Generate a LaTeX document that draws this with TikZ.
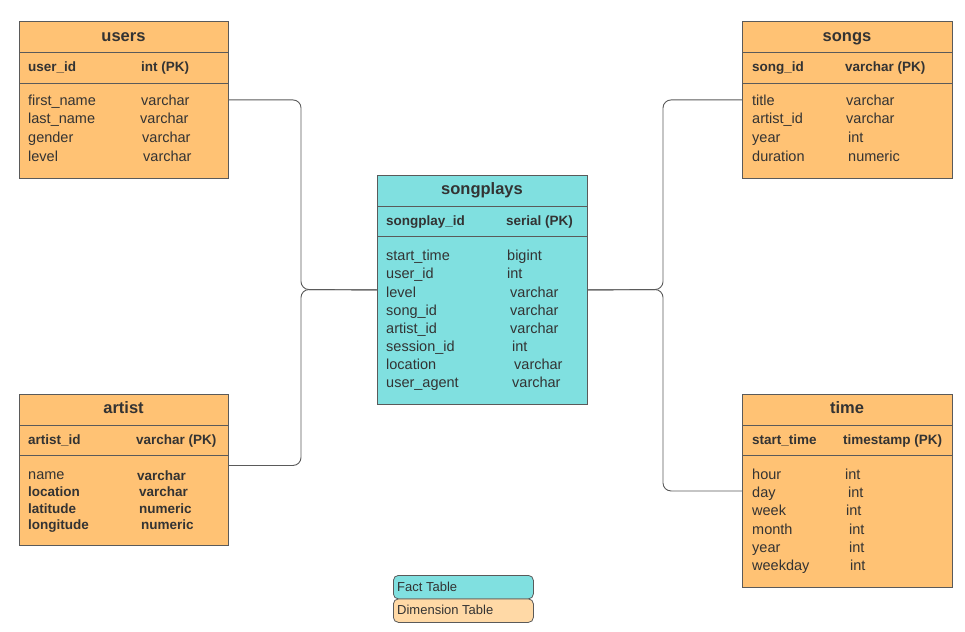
\documentclass[tikz,border=0pt]{standalone}
\usepackage{fontspec}
\setmainfont{Liberation Sans}
\definecolor{dimfill}{HTML}{FFC274}
\definecolor{factfill}{HTML}{80E0E0}
\definecolor{dimlight}{HTML}{FFD9A6}
\definecolor{edge}{HTML}{5A5A5A}
\definecolor{txt}{HTML}{333333}
\begin{document}
\begin{tikzpicture}[x=1pt,y=-1pt,
  tbl/.style={draw=edge, line width=0.9pt, rectangle, anchor=north west, inner sep=0pt},
  sep/.style={draw=edge, line width=0.8pt},
  ttl/.style={font=\fontsize{16.5}{19}\selectfont\bfseries, text=txt, anchor=center, inner sep=0pt, text height=11pt, text depth=0pt},
  pk/.style={font=\fontsize{13.5}{16}\selectfont\bfseries, text=txt, anchor=west, inner sep=0pt, text height=10pt, text depth=0pt},
  row/.style={font=\fontsize{14.5}{17}\selectfont, text=txt, anchor=west, inner sep=0pt, text height=10pt, text depth=0pt},
  brow/.style={font=\fontsize{13.5}{16}\selectfont\bfseries, text=txt, anchor=west, inner sep=0pt, text height=10pt, text depth=0pt},
  conn/.style={draw=edge, line width=0.9pt, rounded corners=8pt},
  legend/.style={draw=edge, line width=0.8pt, rounded corners=5pt, anchor=north west, minimum width=140pt, minimum height=23.5pt, inner sep=0pt},
  legtxt/.style={font=\fontsize{13}{15}\selectfont, text=txt, anchor=west, inner sep=0pt, text height=9pt, text depth=0pt}
]
\useasboundingbox (0,0) rectangle (965,631);

% ---------- users ----------
\node[tbl, fill=dimfill, minimum width=209pt, minimum height=157pt] (users) at (19,21) {};
\draw[sep] (19,52.5) -- (228,52.5);
\draw[sep] (19,83) -- (228,83);
\node[ttl] (usersT) at (123.5,36) {users};
\node[pk] (u0a) at (28,67) {user\_id};
\node[pk] (u0b) at (141,67) {int (PK)};
\node[row] (u1a) at (28,101) {first\_name};  \node[row] (u1b) at (141,101) {varchar};
\node[row] (u2a) at (28,119) {last\_name};   \node[row] (u2b) at (140,119) {varchar};
\node[row] (u3a) at (28,138) {gender};      \node[row] (u3b) at (142,138) {varchar};
\node[row] (u4a) at (28,156) {level};       \node[row] (u4b) at (143,156) {varchar};

% ---------- songs ----------
\node[tbl, fill=dimfill, minimum width=210pt, minimum height=157pt] (songs) at (742,21) {};
\draw[sep] (742,52.5) -- (952,52.5);
\draw[sep] (742,83) -- (952,83);
\node[ttl] (songsT) at (847,36) {songs};
\node[pk] (s0a) at (752,67) {song\_id};
\node[pk] (s0b) at (845,67) {varchar (PK)};
\node[row] (s1a) at (752,101) {title};      \node[row] (s1b) at (846,101) {varchar};
\node[row] (s2a) at (752,119) {artist\_id}; \node[row] (s2b) at (846,119) {varchar};
\node[row] (s3a) at (752,138) {year};       \node[row] (s3b) at (848,138) {int};
\node[row] (s4a) at (752,156) {duration};   \node[row] (s4b) at (848,156) {numeric};

% ---------- songplays ----------
\node[tbl, fill=factfill, minimum width=210pt, minimum height=229pt] (songplays) at (377,175) {};
\draw[sep] (377,206.5) -- (587,206.5);
\draw[sep] (377,236) -- (587,236);
\node[ttl] (spT) at (482,189) {songplays};
\node[pk] (p0a) at (386,220) {songplay\_id};
\node[pk] (p0b) at (506,220) {serial (PK)};
\node[row] (p1a) at (386,255) {start\_time}; \node[row] (p1b) at (507,255) {bigint};
\node[row] (p2a) at (386,273) {user\_id};    \node[row] (p2b) at (507,273) {int};
\node[row] (p3a) at (386,292) {level};       \node[row] (p3b) at (510,292) {varchar};
\node[row] (p4a) at (386,310) {song\_id};    \node[row] (p4b) at (510,310) {varchar};
\node[row] (p5a) at (386,328) {artist\_id};  \node[row] (p5b) at (510,328) {varchar};
\node[row] (p6a) at (386,346) {session\_id}; \node[row] (p6b) at (512,346) {int};
\node[row] (p7a) at (386,364) {location};    \node[row] (p7b) at (514,364) {varchar};
\node[row] (p8a) at (386,382) {user\_agent}; \node[row] (p8b) at (512,382) {varchar};

% ---------- artist ----------
\node[tbl, fill=dimfill, minimum width=209pt, minimum height=151pt] (artist) at (19,394) {};
\draw[sep] (19,425) -- (228,425);
\draw[sep] (19,455.5) -- (228,455.5);
\node[ttl] (artistT) at (123.5,408) {artist};
\node[pk] (a0a) at (28,439) {artist\_id};
\node[pk] (a0b) at (136,439) {varchar (PK)};
\node[row] (a1a) at (28,474) {name};        \node[brow] (a1b) at (137,475) {varchar};
\node[brow] (a2a) at (28,491) {location};   \node[brow] (a2b) at (139,491) {varchar};
\node[brow] (a3a) at (28,508) {latitude};   \node[brow] (a3b) at (139,508) {numeric};
\node[brow] (a4a) at (28,524) {longitude};  \node[brow] (a4b) at (141,524) {numeric};

% ---------- time ----------
\node[tbl, fill=dimfill, minimum width=210pt, minimum height=193pt] (time) at (742,394) {};
\draw[sep] (742,425.5) -- (952,425.5);
\draw[sep] (742,455.5) -- (952,455.5);
\node[ttl] (timeT) at (847,408) {time};
\node[pk] (t0a) at (752,439) {start\_time};
\node[pk] (t0b) at (843,439) {timestamp (PK)};
\node[row] (t1a) at (752,474) {hour};    \node[row] (t1b) at (845,474) {int};
\node[row] (t2a) at (752,492) {day};     \node[row] (t2b) at (848,492) {int};
\node[row] (t3a) at (752,510) {week};    \node[row] (t3b) at (846,510) {int};
\node[row] (t4a) at (752,529) {month};   \node[row] (t4b) at (849,529) {int};
\node[row] (t5a) at (752,547) {year};    \node[row] (t5b) at (849,547) {int};
\node[row] (t6a) at (752,565) {weekday}; \node[row] (t6b) at (850,565) {int};

% ---------- connectors ----------
\coordinate (jl) at (301,289.5);
\coordinate (jr) at (663,289.5);
\draw[conn] (users.east) -| (jl) -- (songplays.west);
\draw[conn] ([yshift=4.5pt]artist.east) -| (jl) -- (songplays.west);
\draw[conn] (songs.west) -| (jr) -- (songplays.east);
\draw[conn] (time.west) -| (jr) -- (songplays.east);

% ---------- legend ----------
\node[legend, fill=factfill] (fact) at (393,575) {};
\node[legend, fill=dimlight] (dim) at (393,598.5) {};
\node[legtxt] (factT) at (397,586.5) {Fact Table};
\node[legtxt] (dimT) at (397,610) {Dimension Table};
\end{tikzpicture}
\end{document}
